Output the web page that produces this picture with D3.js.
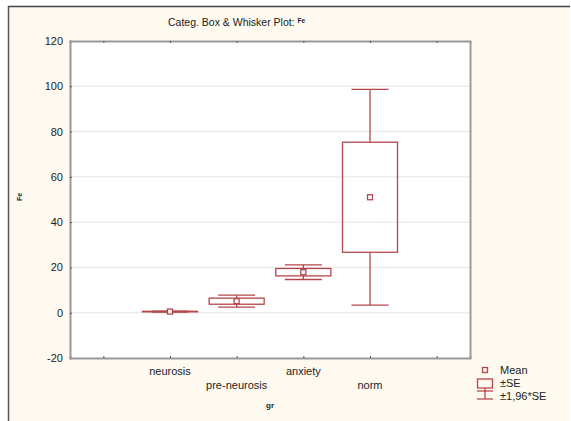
<!DOCTYPE html>
<meta charset="utf-8">
<style>

body {
  margin: 0;
  background: #fff;
}

svg {
  font-family: "Liberation Sans", Arial, sans-serif;
  display: block;
}

.grid line {
  stroke: #ececec;
  stroke-width: 1.5px;
}

.mark {
  fill: none;
  stroke: #b5474b;
  stroke-width: 1.3px;
}

</style>
<body>
<script src="https://cdn.jsdelivr.net/npm/d3@7"></script>
<script>

var groups = ["neurosis", "pre-neurosis", "anxiety", "norm"],
    means = [0.5, 5.1, 17.9, 51.0],
    se = [0.12, 1.35, 1.65, 24.3];

var yTicks = [-20, 0, 20, 40, 60, 80, 100, 120];

var width = 571,
    height = 421,
    margin = {top: 41, right: 101, bottom: 63, left: 70};

var svg = d3.select("body").append("svg")
    .attr("width", width)
    .attr("height", height);

// cream frame
svg.append("rect")
    .attr("x", 8).attr("y", 6)
    .attr("width", 562).attr("height", 415)
    .style("fill", "#fffaf0");
svg.append("line")
    .attr("x1", 8).attr("x2", 570).attr("y1", 6.5).attr("y2", 6.5)
    .style("stroke", "#444").style("stroke-width", 1.5);
svg.append("line")
    .attr("x1", 8.5).attr("x2", 8.5).attr("y1", 6).attr("y2", 421)
    .style("stroke", "#555").style("stroke-width", 1.5);

var x = d3.scaleLinear()
    .domain([-0.5, 5.5])
    .range([margin.left, width - margin.right]);

var y = d3.scaleLinear()
    .domain([-20, 120])
    .range([height - margin.bottom, margin.top]);

svg.append("rect")
    .attr("x", x.range()[0]).attr("y", y.range()[1])
    .attr("width", x.range()[1] - x.range()[0])
    .attr("height", y.range()[0] - y.range()[1])
    .style("fill", "#fff");

svg.append("g").attr("class", "grid")
  .selectAll("line")
    .data(yTicks.slice(1, -1))
  .enter().append("line")
    .attr("x1", x.range()[0]).attr("x2", x.range()[1])
    .attr("y1", y).attr("y2", y);

var yAxis = svg.append("g")
    .attr("transform", "translate(" + x.range()[0] + ",0)")
    .call(d3.axisLeft(y).tickValues(yTicks).tickSize(-2).tickPadding(7)
      .tickFormat(function(d) { return String(d); }));

var xAxis = svg.append("g")
    .attr("transform", "translate(0," + y.range()[0] + ")")
    .call(d3.axisBottom(x).tickValues([0, 1, 2, 3, 4, 5]).tickSize(-2).tickFormat(""));

var xTop = svg.append("g")
    .attr("transform", "translate(0," + y.range()[1] + ")")
    .call(d3.axisTop(x).tickValues([0, 1, 2, 3, 4, 5]).tickSize(-2).tickFormat(""));

var yRight = svg.append("g")
    .attr("transform", "translate(" + x.range()[1] + ",0)")
    .call(d3.axisRight(y).tickValues([]).tickSize(0));

[yAxis, xAxis, xTop, yRight].forEach(function(g) {
  g.select(".domain").style("stroke", "#999").style("stroke-width", 2);
  g.selectAll(".tick line").style("stroke", "#555");
});

yAxis.selectAll("text")
    .style("font-size", "11px")
    .style("fill", "#222")
    .style("font-family", "Liberation Sans, Arial, sans-serif");

// category labels, staggered
svg.append("g").selectAll("text")
    .data(groups)
  .enter().append("text")
    .attr("x", function(d, i) { return x(i + 1); })
    .attr("y", function(d, i) { return i % 2 ? 389 : 375; })
    .attr("text-anchor", "middle")
    .style("font-size", "11px")
    .style("fill", "#222")
    .text(function(d) { return d; });

var boxW = 55,
    capW = 37,
    meanW = 5;

var g = svg.append("g").selectAll("g")
    .data(groups)
  .enter().append("g")
    .attr("class", "mark");

g.append("line")
    .attr("x1", function(d, i) { return x(i + 1); })
    .attr("x2", function(d, i) { return x(i + 1); })
    .attr("y1", function(d, i) { return y(means[i] + 1.96 * se[i]); })
    .attr("y2", function(d, i) { return y(means[i] + se[i]); });

g.append("line")
    .attr("x1", function(d, i) { return x(i + 1); })
    .attr("x2", function(d, i) { return x(i + 1); })
    .attr("y1", function(d, i) { return y(means[i] - se[i]); })
    .attr("y2", function(d, i) { return y(means[i] - 1.96 * se[i]); });

[1.96, -1.96].forEach(function(k) {
  g.append("line")
      .attr("x1", function(d, i) { return x(i + 1) - capW / 2; })
      .attr("x2", function(d, i) { return x(i + 1) + capW / 2; })
      .attr("y1", function(d, i) { return y(means[i] + k * se[i]); })
      .attr("y2", function(d, i) { return y(means[i] + k * se[i]); });
});

g.append("rect")
    .attr("x", function(d, i) { return x(i + 1) - boxW / 2; })
    .attr("y", function(d, i) { return y(means[i] + se[i]); })
    .attr("width", boxW)
    .attr("height", function(d, i) { return y(means[i] - se[i]) - y(means[i] + se[i]); });

g.append("rect")
    .attr("x", function(d, i) { return x(i + 1) - meanW / 2; })
    .attr("y", function(d, i) { return y(means[i]) - meanW / 2; })
    .attr("width", meanW)
    .attr("height", meanW)
    .style("fill", "#fff");

// titles
svg.append("text")
    .attr("x", 168).attr("y", 26)
    .style("font-size", "10.5px")
    .style("fill", "#222")
    .text("Categ. Box & Whisker Plot: ")
  .append("tspan")
    .attr("dy", -3)
    .style("font-size", "6.5px")
    .style("font-weight", "bold")
    .text("Fe");

svg.append("text")
    .attr("transform", "translate(22,197) rotate(-90)")
    .attr("text-anchor", "middle")
    .style("font-size", "7px")
    .style("font-weight", "bold")
    .style("fill", "#222")
    .text("Fe");

svg.append("text")
    .attr("x", 270).attr("y", 408)
    .attr("text-anchor", "middle")
    .style("font-size", "8px")
    .style("font-weight", "bold")
    .style("fill", "#222")
    .text("gr");

// legend
var legend = svg.append("g").attr("transform", "translate(485,0)");
legend.append("rect").attr("class", "mark")
    .attr("x", -2.5).attr("y", 367.5).attr("width", 5).attr("height", 5);
legend.append("rect").attr("class", "mark")
    .attr("x", -7.5).attr("y", 379).attr("width", 15).attr("height", 9);
legend.append("line").attr("class", "mark")
    .attr("x1", 0).attr("x2", 0).attr("y1", 388).attr("y2", 399);
legend.append("line").attr("class", "mark")
    .attr("x1", -8).attr("x2", 8).attr("y1", 399).attr("y2", 399);
legend.append("line").attr("class", "mark")
    .attr("x1", -8).attr("x2", 8).attr("y1", 391).attr("y2", 391);

legend.selectAll("text")
    .data(["Mean", "\u00b1SE", "\u00b11,96*SE"])
  .enter().append("text")
    .attr("x", 15)
    .attr("y", function(d, i) { return 374 + i * 13; })
    .style("font-size", "11px")
    .style("fill", "#222")
    .text(function(d) { return d; });

</script>
